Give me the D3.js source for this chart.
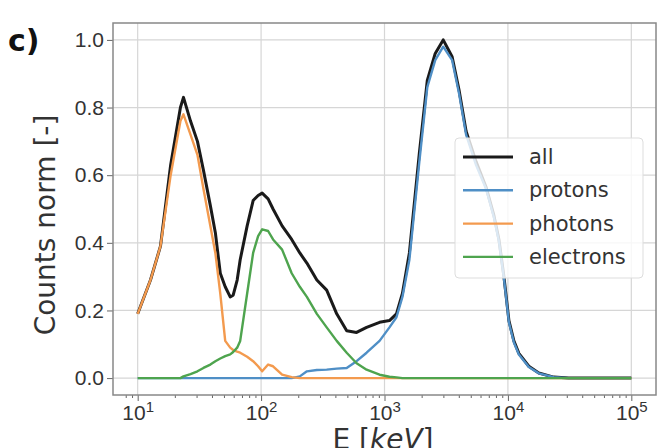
<!DOCTYPE html>
<meta charset="utf-8">
<style>
body { margin: 0; background: #fff; }
svg { display: block; font-family: "DejaVu Sans", sans-serif; }
.tick text { fill: #333; }
</style>
<svg id="chart" width="666" height="448"></svg>
<script src="https://cdn.jsdelivr.net/npm/d3@7"></script>
<script>
// energy bins [keV] and normalised counts
var energy    = [10, 12.7, 15.3, 18.5, 22.2, 23.5, 26.8, 30.5, 34.1, 38.8, 42.6, 46.7, 51.2, 56.2, 59.4, 64, 67.7, 77.1, 86.2, 94.6,
                 102, 114, 125, 148, 177, 206, 235, 283, 340, 410, 494, 594, 716, 912, 1097, 1250, 1397, 1591, 1916, 2222,
                 2577, 2990, 3532, 4027, 4583, 5521, 6647, 7708, 8456, 9283, 10190, 11180, 12270, 14770, 17780, 23500, 31000, 100000]
var allCounts = [0.19, 0.29, 0.39, 0.63, 0.80, 0.83, 0.76, 0.70, 0.615, 0.51, 0.43, 0.31, 0.27, 0.24, 0.245, 0.29, 0.35, 0.45, 0.525, 0.54,
                 0.547, 0.53, 0.50, 0.45, 0.41, 0.37, 0.34, 0.29, 0.26, 0.19, 0.14, 0.135, 0.15, 0.165, 0.17, 0.19, 0.25, 0.37, 0.665, 0.88,
                 0.96, 1.0, 0.95, 0.85, 0.73, 0.64, 0.565, 0.48, 0.41, 0.30, 0.17, 0.11, 0.073, 0.035, 0.015, 0.003, 0, 0]
var protons   = [0, 0, 0, 0, 0, 0, 0, 0, 0, 0, 0, 0, 0, 0, 0, 0, 0, 0, 0, 0,
                 0, 0, 0, 0, 0, 0.005, 0.02, 0.024, 0.025, 0.028, 0.03, 0.05, 0.075, 0.11, 0.15, 0.18, 0.24, 0.35, 0.64, 0.86,
                 0.94, 0.98, 0.94, 0.84, 0.72, 0.63, 0.56, 0.475, 0.405, 0.295, 0.165, 0.105, 0.07, 0.033, 0.014, 0.003, 0, 0]
var photons   = [0.19, 0.29, 0.39, 0.60, 0.76, 0.78, 0.72, 0.66, 0.56, 0.45, 0.37, 0.25, 0.11, 0.09, 0.083, 0.078, 0.075, 0.063, 0.05, 0.035,
                 0.02, 0.04, 0.035, 0.01, 0.003, 0, 0, 0, 0, 0, 0, 0, 0, 0, 0, 0, 0, 0, 0, 0,
                 0, 0, 0, 0, 0, 0, 0, 0, 0, 0, 0, 0, 0, 0, 0, 0, 0, 0]
var electrons = [0, 0, 0, 0, 0, 0.005, 0.012, 0.02, 0.03, 0.04, 0.05, 0.058, 0.065, 0.07, 0.077, 0.09, 0.11, 0.25, 0.37, 0.42,
                 0.44, 0.435, 0.41, 0.38, 0.31, 0.27, 0.24, 0.19, 0.15, 0.11, 0.075, 0.044, 0.025, 0.01, 0.004, 0.002, 0, 0, 0, 0,
                 0, 0, 0, 0, 0, 0, 0, 0, 0, 0, 0, 0, 0, 0, 0, 0, 0, 0]

var seriesNames  = ["all", "protons", "photons", "electrons"]
var seriesValues = [allCounts, protons, photons, electrons]
var seriesColors = ["#1a1a1a", "#4f8fc6", "#f39a4e", "#4ea44e"]
var xTickExp = [1, 2, 3, 4, 5]
var yTicks = [0, 0.2, 0.4, 0.6, 0.8, 1.0]

var svg = d3.select("#chart")
var plot = {left: 113, right: 656, top: 23, bottom: 395}

var x = d3.scaleLog().domain([Math.pow(10, 0.8), Math.pow(10, 5.2)]).range([plot.left, plot.right])
var y = d3.scaleLinear().domain([-0.05, 1.05]).range([plot.bottom, plot.top])

// grid
svg.append("g").selectAll("line").data(xTickExp).enter().append("line")
   .attr("x1", d => x(Math.pow(10, d))).attr("x2", d => x(Math.pow(10, d)))
   .attr("y1", plot.top).attr("y2", plot.bottom)
   .attr("stroke", "#d6d6d6").attr("stroke-width", 1.2)
svg.append("g").selectAll("line").data(yTicks).enter().append("line")
   .attr("x1", plot.left).attr("x2", plot.right)
   .attr("y1", d => y(d)).attr("y2", d => y(d))
   .attr("stroke", "#d6d6d6").attr("stroke-width", 1.2)

// curves
var line = d3.line()
    .x((d, i) => x(energy[i]))
    .y(d => y(d))

svg.append("g").selectAll("path").data(seriesValues).enter().append("path")
   .attr("d", d => line(d))
   .attr("fill", "none")
   .attr("stroke", (d, i) => seriesColors[i])
   .attr("stroke-width", (d, i) => i == 0 ? 3 : 2.4)
   .attr("stroke-linejoin", "round")

// axes
var yAxis = d3.axisLeft(y).tickValues(yTicks).tickFormat(d3.format(".1f")).tickSize(6).tickPadding(3)
var gy = svg.append("g").attr("transform", "translate(" + plot.left + ",0)").call(yAxis)
gy.selectAll("text").style("font-size", "21px")

var minorTicks = []
xTickExp.slice(0, 4).forEach(function(e) {
  for (var m = 2; m <= 9; m++) minorTicks.push(m * Math.pow(10, e))
})
minorTicks.push(8, 9)
svg.append("g").attr("transform", "translate(0," + plot.bottom + ")")
   .call(d3.axisBottom(x).tickValues(minorTicks).tickSize(3).tickFormat(""))

var xAxis = d3.axisBottom(x).tickValues(xTickExp.map(e => Math.pow(10, e))).tickSize(6).tickFormat("")
var gx = svg.append("g").attr("transform", "translate(0," + plot.bottom + ")").call(xAxis)
gx.selectAll(".tick").append("text")
  .attr("y", 25)
  .attr("fill", "#333")
  .attr("text-anchor", "middle")
  .style("font-size", "21px")
  .each(function(d) {
    var t = d3.select(this)
    t.append("tspan").text("10")
    t.append("tspan").attr("dy", -8).style("font-size", "15px").text(Math.round(Math.log10(d)))
  })

svg.selectAll(".domain").remove()
svg.selectAll(".tick line").attr("stroke", "#666")
svg.append("rect")
   .attr("x", plot.left).attr("y", plot.top)
   .attr("width", plot.right - plot.left).attr("height", plot.bottom - plot.top)
   .attr("fill", "none").attr("stroke", "#888").attr("stroke-width", 1.5)

// labels
svg.append("text")
   .attr("transform", "translate(55,225) rotate(-90)")
   .attr("text-anchor", "middle")
   .attr("fill", "#333")
   .style("font-size", "28px")
   .text("Counts norm [-]")

var xl = svg.append("text")
   .attr("x", 383).attr("y", 449)
   .attr("text-anchor", "middle")
   .attr("fill", "#333")
   .style("font-size", "28px")
xl.append("tspan").text("E [")
xl.append("tspan").style("font-style", "italic").text("keV")
xl.append("tspan").text("]")

svg.append("text")
   .attr("x", 8).attr("y", 51)
   .attr("fill", "#111")
   .style("font-size", "30px").style("font-weight", "bold")
   .text("c)")

// legend
var legend = svg.append("g").attr("transform", "translate(455,138)")
legend.append("rect")
   .attr("width", 188).attr("height", 140).attr("rx", 4)
   .attr("fill", "#fff").attr("fill-opacity", 0.8)
   .attr("stroke", "#ddd")
var item = legend.selectAll(".item").data(seriesNames).enter().append("g")
   .attr("class", "item")
   .attr("transform", (d, i) => "translate(0," + (19 + i * 33.3) + ")")
item.append("line")
   .attr("x1", 8).attr("x2", 58)
   .attr("stroke", (d, i) => seriesColors[i])
   .attr("stroke-width", (d, i) => i == 0 ? 3 : 2.4)
item.append("text")
   .attr("x", 74).attr("y", 7)
   .attr("fill", "#333")
   .style("font-size", "21px")
   .text(d => d)
</script>
